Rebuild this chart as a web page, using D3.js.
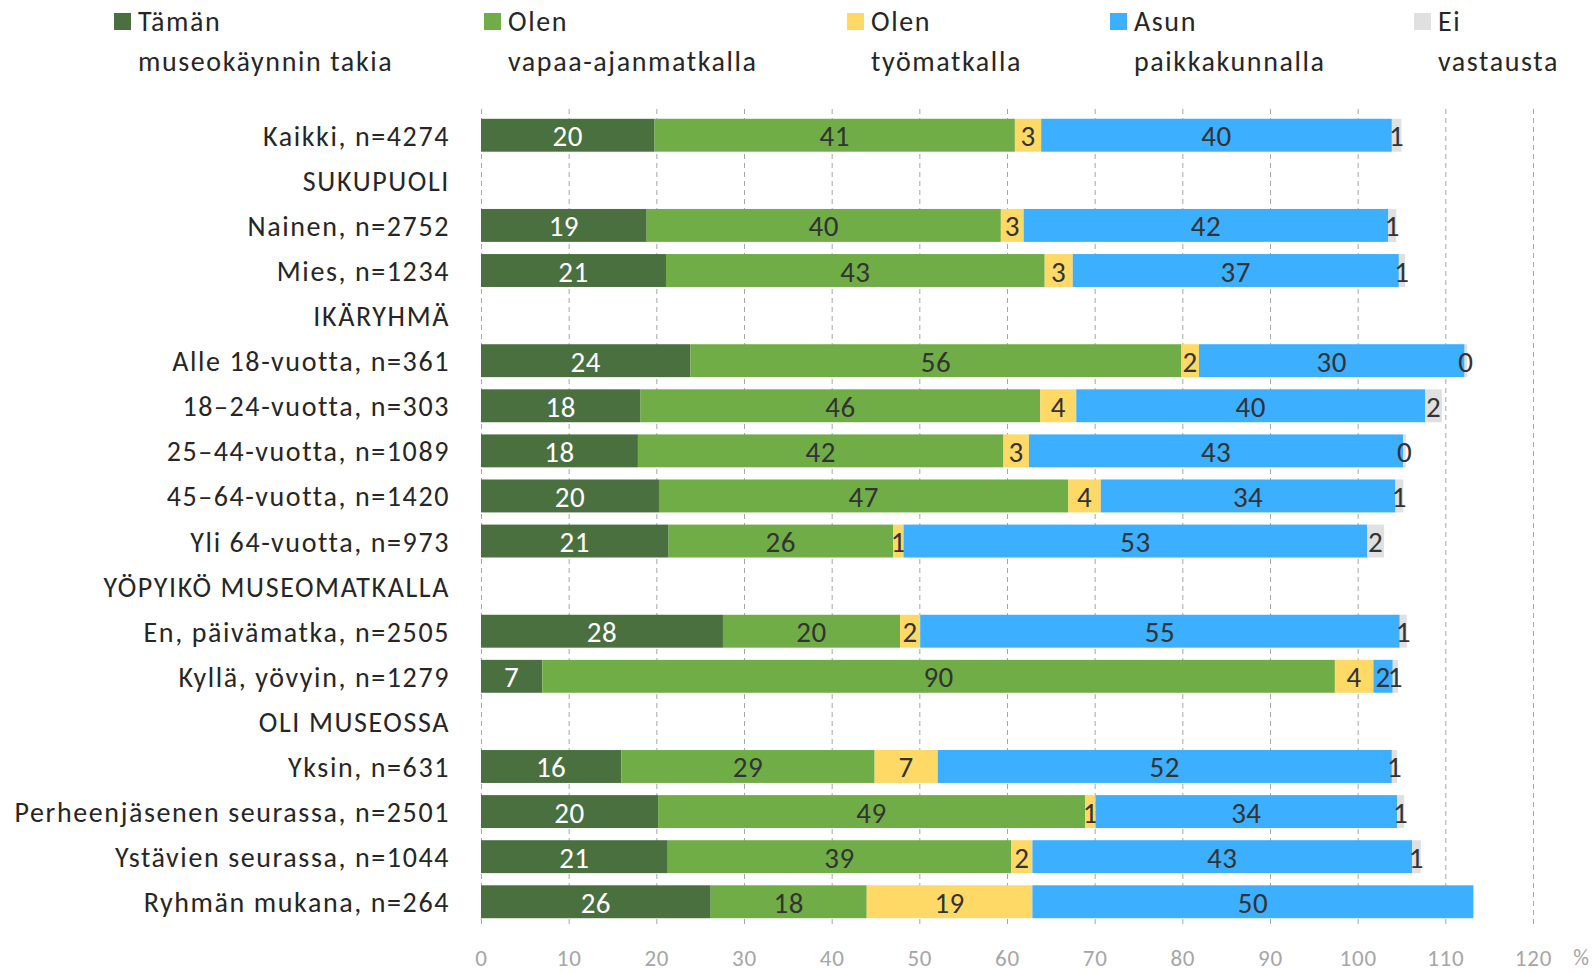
<!DOCTYPE html>
<html>
<head>
<meta charset="utf-8">
<script src="https://cdn.jsdelivr.net/npm/d3@7"></script>
<style>
body{margin:0;background:#fff;}
text{font-family:Carlito,Calibri,Lato,"Open Sans",sans-serif;}
</style>
</head>
<body>
<div id="chart"></div>
<script>
var w=1594
var h=973

//Row labels (header rows have no bars)
var categories=["Kaikki, n=4274","SUKUPUOLI","Nainen, n=2752","Mies, n=1234","IKÄRYHMÄ",
  "Alle 18-vuotta, n=361","18–24-vuotta, n=303","25–44-vuotta, n=1089","45–64-vuotta, n=1420",
  "Yli 64-vuotta, n=973","YÖPYIKÖ MUSEOMATKALLA","En, päivämatka, n=2505","Kyllä, yövyin, n=1279",
  "OLI MUSEOSSA","Yksin, n=631","Perheenjäsenen seurassa, n=2501","Ystävien seurassa, n=1044",
  "Ryhmän mukana, n=264"]

//Series values, % (null = header row)
var museumVals=[19.8,null,18.9,21.1,null,23.9,18.2,17.9,20.3,21.4,null,27.6,7.0,null,16.0,20.2,21.3,26.2]
var leisureVals=[41.1,null,40.4,43.2,null,56.0,45.6,41.7,46.7,25.6,null,20.2,90.4,null,28.9,48.7,39.2,17.8]
var workVals=[3.0,null,2.6,3.2,null,2.0,4.1,2.9,3.7,1.2,null,2.3,4.4,null,7.2,1.2,2.4,18.9]
var localVals=[40.0,null,41.6,37.2,null,30.3,39.8,42.7,33.6,52.9,null,54.7,2.2,null,51.8,34.4,43.3,50.3]
var noAnswerVals=[1.1,null,0.9,0.7,null,0.3,1.9,0.3,0.9,1.9,null,0.8,0.6,null,0.6,0.8,1.0,null]

var seriesNames=[["Tämän","museokäynnin takia"],["Olen","vapaa-ajanmatkalla"],["Olen","työmatkalla"],["Asun","paikkakunnalla"],["Ei","vastausta"]]
var seriesKeys=["museum","leisure","work","local","noanswer"]
var colors=["#4a7040","#70ad47","#ffd966","#3cafff","#e0e0e0"]
var xTicks=[0,10,20,30,40,50,60,70,80,90,100,110,120]

var table=categories.map(function(c,i) {
    return {cat:c,museum:museumVals[i],leisure:leisureVals[i],work:workVals[i],local:localVals[i],noanswer:noAnswerVals[i]};
});

var svg=d3.select("#chart")
          .append("svg")
          .attr("width",w)
          .attr("height",h);

var xScale=d3.scaleLinear()
             .domain([0,120])
             .range([481,1533]);

var yScale=d3.scaleBand()
             .domain(categories)
             .range([112.7,924.3])
             .paddingInner(0.27)
             .paddingOuter(0.135);

//Dashed gridlines
svg.append("g")
   .attr("class","grid")
   .selectAll("line")
   .data(xTicks)
   .enter()
   .append("line")
   .attr("x1",function(d) {return xScale(d)+0.5;})
   .attr("x2",function(d) {return xScale(d)+0.5;})
   .attr("y1",109)
   .attr("y2",924)
   .attr("stroke","#a6a6a6")
   .attr("stroke-width",1)
   .attr("stroke-dasharray","5,4");

//Stacked bars
var stack=d3.stack()
            .keys(seriesKeys)
            .value(function(d,k) {return d[k]==null?0:d[k];});
var stacked=stack(table);

var layers=svg.append("g")
              .attr("class","bars")
              .selectAll("g")
              .data(stacked)
              .enter()
              .append("g")
              .attr("fill",function(d,i) {return colors[i];});

layers.selectAll("rect")
      .data(function(d) {return d.filter(function(s) {return s.data[d.key]!=null;});})
      .enter()
      .append("rect")
      .attr("x",function(d) {return xScale(d[0]);})
      .attr("width",function(d) {return xScale(d[1])-xScale(d[0]);})
      .attr("y",function(d) {return yScale(d.data.cat);})
      .attr("height",yScale.bandwidth());

//Data labels
var fmt=d3.format(".0f");
layers.each(function(layer,i) {
    d3.select(this)
      .selectAll("text")
      .data(layer.filter(function(s) {return s.data[layer.key]!=null;}))
      .enter()
      .append("text")
      .attr("x",function(d) {return xScale((d[0]+d[1])/2);})
      .attr("y",function(d) {return yScale(d.data.cat)+yScale.bandwidth()/2+1;})
      .attr("text-anchor","middle")
      .attr("dominant-baseline","central")
      .attr("font-size","29px")
      .attr("letter-spacing","0.5px")
      .attr("fill",i==0?"#ffffff":"#333333")
      .text(function(d) {return fmt(d.data[layer.key]);});
});

//Category labels
svg.append("g")
   .attr("class","cats")
   .selectAll("text")
   .data(categories)
   .enter()
   .append("text")
   .attr("x",450)
   .attr("y",function(d) {return yScale(d)+yScale.bandwidth()/2+1;})
   .attr("text-anchor","end")
   .attr("dominant-baseline","central")
   .attr("font-size","28px")
   .attr("letter-spacing","1.6px")
   .attr("fill","#262626")
   .text(function(d) {return d;});

//x-axis
var xAxis=d3.axisBottom(xScale)
            .tickValues(xTicks)
            .tickSize(0)
            .tickPadding(0);
var axisG=svg.append("g")
             .attr("class","axis")
             .attr("transform","translate(0,950)")
             .call(xAxis);
axisG.select(".domain").remove();
axisG.selectAll("text")
     .attr("font-size","23px")
     .attr("letter-spacing","0.8px")
     .attr("font-family","Carlito,Calibri,Lato,sans-serif")
     .attr("fill","#a6a6a6");
svg.append("text")
   .attr("x",1581)
   .attr("y",957)
   .attr("text-anchor","middle")
   .attr("dominant-baseline","central")
   .attr("font-size","22px")
   .attr("fill","#a6a6a6")
   .text("%");

//Legend
var legendX=[114,484,847,1110,1414];
var legend=svg.append("g")
              .attr("class","legend")
              .selectAll("g")
              .data(seriesNames)
              .enter()
              .append("g")
              .attr("transform",function(d,i) {return "translate("+legendX[i]+",0)";});
legend.append("rect")
      .attr("x",0)
      .attr("y",13)
      .attr("width",17)
      .attr("height",17)
      .attr("fill",function(d,i) {return colors[i];});
legend.append("text")
      .attr("x",24)
      .attr("y",21)
      .attr("dominant-baseline","central")
      .attr("font-size","28px")
      .attr("letter-spacing","1.6px")
      .attr("fill","#262626")
      .text(function(d) {return d[0];});
legend.append("text")
      .attr("x",24)
      .attr("y",61)
      .attr("dominant-baseline","central")
      .attr("font-size","28px")
      .attr("letter-spacing","1.6px")
      .attr("fill","#262626")
      .text(function(d) {return d[1];});
</script>
</body>
</html>
